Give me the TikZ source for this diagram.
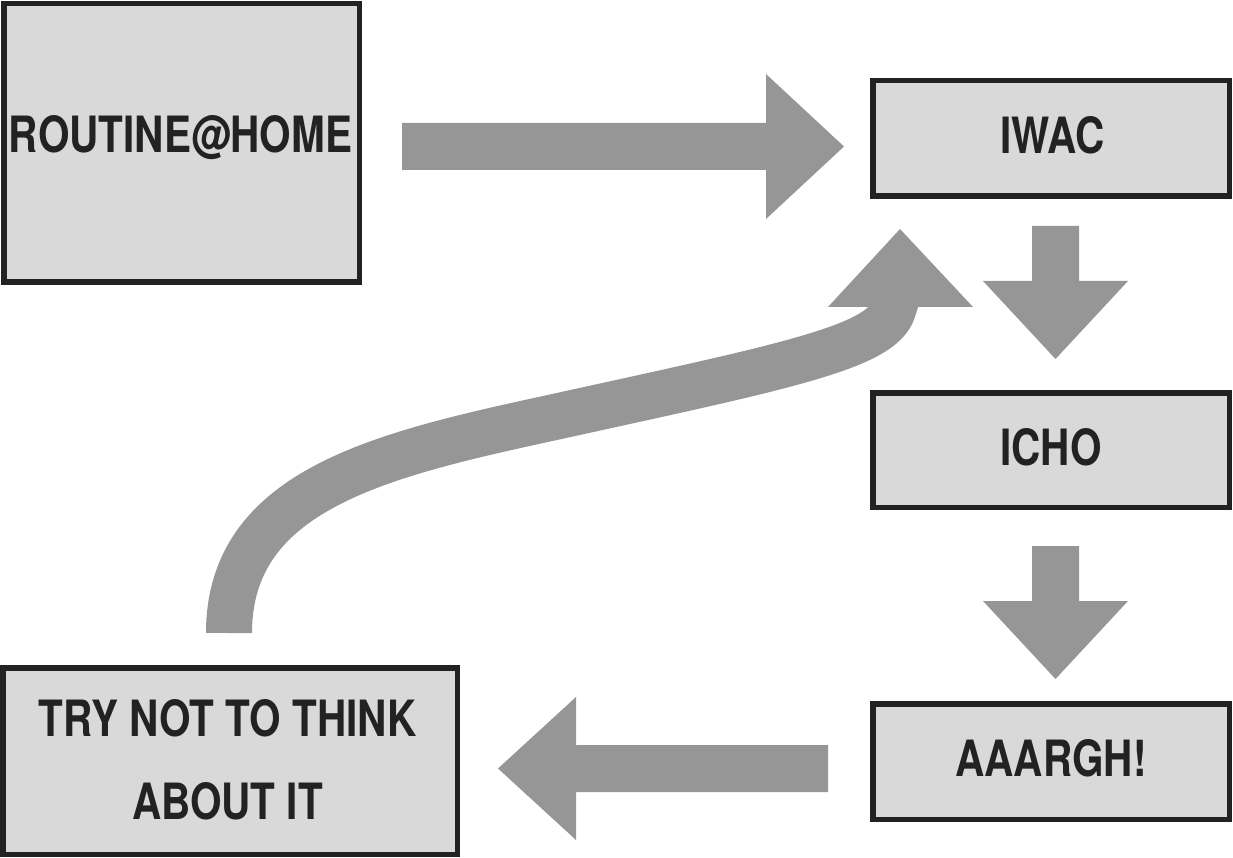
\documentclass[tikz,border=0pt]{standalone}
\usepackage{fontspec}
\setmainfont{TeX Gyre Heros}[FakeStretch=0.81]
\definecolor{boxfill}{HTML}{D9D9D9}
\definecolor{boxline}{HTML}{222222}
\definecolor{arrowgray}{HTML}{969696}
\begin{document}
\begin{tikzpicture}[x=1pt,y=-1pt,
  box/.style={draw=boxline, fill=boxfill, line width=5.5pt, rectangle, inner sep=0pt},
  lbl/.style={anchor=base, inner sep=0pt, font=\fontsize{50}{60}\selectfont\bfseries, text=boxline},
  blockarrow/.style={fill=arrowgray, draw=none},
  band/.style={draw=arrowgray, line width=46pt}]
\useasboundingbox (0,0) rectangle (1233,858);

% boxes
\node[box, minimum width=355.5pt, minimum height=278.5pt] (routine) at (181.5,143) {};
\node[box, minimum width=356.5pt, minimum height=115.5pt] (iwac) at (1051,138.5) {};
\node[box, minimum width=356.5pt, minimum height=114.5pt] (icho) at (1051,450) {};
\node[box, minimum width=356.5pt, minimum height=115.5pt] (aaargh) at (1051,761.5) {};
\node[box, minimum width=454.5pt, minimum height=186.5pt] (try) at (230,761) {};

% labels
\node[lbl] (routinetxt) at (180.5,153) {ROUTINE@HOME};
\node[lbl] (iwactxt) at (1052.5,154) {IWAC};
\node[lbl] (ichotxt) at (1051,465) {ICHO};
\node[lbl] (aaarghtxt) at (1051,776) {AAARGH!};
\node[lbl] (trytxtA) at (227.5,736) {TRY NOT TO THINK};
\node[lbl] (trytxtB) at (227.5,819) {ABOUT IT};

% block arrows
\fill[blockarrow] (402,123) -- (766,123) -- (766,74) -- (844,146.5) -- (766,219) -- (766,170) -- (402,170) -- cycle;
\fill[blockarrow] (1032,226) -- (1032,281) -- (983,281) -- (1055.5,359) -- (1128,281) -- (1079,281) -- (1079,226) -- cycle;
\fill[blockarrow] (1032,546) -- (1032,601) -- (983,601) -- (1055.5,679) -- (1128,601) -- (1079,601) -- (1079,546) -- cycle;
\fill[blockarrow] (828,745) -- (576,745) -- (576,697) -- (498,768.5) -- (576,840) -- (576,792) -- (828,792) -- cycle;

% curved return arrow
\coordinate (loopstart) at (229,633);
\coordinate (loopmid) at (550,418);
\coordinate (loopend) at (899,291);
\draw[band] (loopstart) .. controls (229,490) and (380,455) .. (loopmid)
  .. controls (780,367.4) and (881,348) .. (893,310) -- (loopend);
\fill[blockarrow] (828,307) -- (900,229) -- (973,307) -- cycle;
\end{tikzpicture}
\end{document}
